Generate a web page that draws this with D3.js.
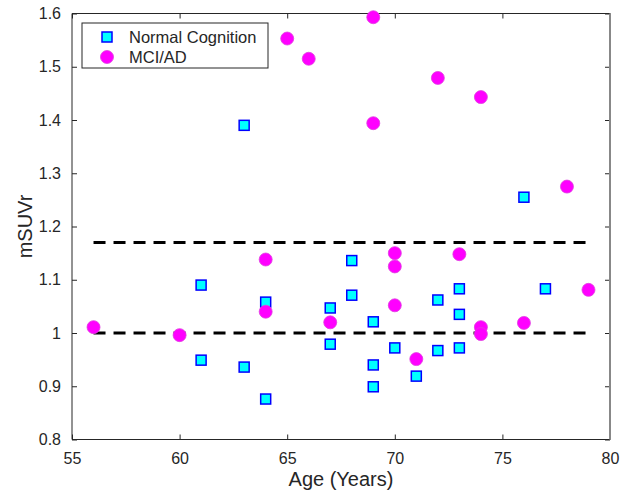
<!DOCTYPE html>
<html><head><meta charset="utf-8">
<script src="https://cdn.jsdelivr.net/npm/d3@7"></script>
<style>
body{margin:0;background:#fff;}
text{font-family:"Liberation Sans",Arial,Helvetica,sans-serif;fill:#262626;}
</style></head>
<body><svg id="c" width="633" height="493"></svg>
<script>
const ncAge = [63,76,61,64,61,63,64,67,67,68,68,69,69,69,70,71,72,72,73,73,73,77];
const ncVal = [1.39,1.255,1.09,1.058,0.949,0.936,0.876,1.047,0.979,1.136,1.071,1.021,0.940,0.899,0.972,0.919,1.062,0.967,1.083,1.035,0.972,1.083];
const mciAge = [65,66,69,69,72,74,78,56,60,64,64,67,70,70,70,71,73,74,74,76,79];
const mciVal = [1.553,1.515,1.593,1.394,1.479,1.443,1.275,1.011,0.996,1.138,1.040,1.020,1.150,1.125,1.052,0.951,1.148,1.011,0.998,1.019,1.081];
const xTicks = [55,60,65,70,75,80];
const yTicks = [0.8,0.9,1.0,1.1,1.2,1.3,1.4,1.5,1.6];
const yTickLabels = ["0.8","0.9","1","1.1","1.2","1.3","1.4","1.5","1.6"];
const thresholds = [1.0,1.17];
const thrRange = [56,79];
const seriesNames = ["Normal Cognition","MCI/AD"];

const svg = d3.select("#c");
const L=72,R=610,T=13.5,B=439.5;
const x = d3.scaleLinear().domain([55,80]).range([L,R]);
const y = d3.scaleLinear().domain([0.8,1.6]).range([B,T]);

const fmt = (d,i)=>yTickLabels[i];
const gx = svg.append("g").attr("transform",`translate(0,${B})`)
  .call(d3.axisBottom(x).tickValues(xTicks).tickSize(-5).tickPadding(13).tickFormat(d3.format("d")));
const gxt = svg.append("g").attr("transform",`translate(0,${T})`)
  .call(d3.axisTop(x).tickValues(xTicks).tickSize(-5).tickFormat(""));
const gy = svg.append("g").attr("transform",`translate(${L},0)`)
  .call(d3.axisLeft(y).tickValues(yTicks).tickSize(-5).tickPadding(11).tickFormat(fmt));
const gyr = svg.append("g").attr("transform",`translate(${R},0)`)
  .call(d3.axisRight(y).tickValues(yTicks).tickSize(-5).tickFormat(""));
[gx,gxt,gy,gyr].forEach(g=>{
  g.select(".domain").remove();
  g.selectAll(".tick line").attr("stroke","#262626");
  g.selectAll(".tick text").style("font-size","16px").attr("fill","#262626");
});
svg.append("line").attr("x1",L).attr("x2",R).attr("y1",B).attr("y2",B).attr("stroke","#262626");
svg.append("line").attr("x1",L).attr("x2",L).attr("y1",T).attr("y2",B).attr("stroke","#262626");
svg.append("line").attr("x1",L).attr("x2",R).attr("y1",T).attr("y2",T).attr("stroke","#262626");
svg.append("line").attr("x1",R).attr("x2",R).attr("y1",T).attr("y2",B).attr("stroke","#888").attr("stroke-width",2);

svg.append("text").attr("x",(L+R)/2).attr("y",486).attr("text-anchor","middle").style("font-size","20px").text("Age (Years)");
svg.append("text").attr("transform",`translate(32,${(T+B)/2}) rotate(-90)`).attr("text-anchor","middle").style("font-size","20px").text("mSUVr");

svg.selectAll(".thr").data(thresholds).enter().append("line")
  .attr("x1",x(thrRange[0])).attr("x2",x(thrRange[1]))
  .attr("y1",d=>y(d)).attr("y2",d=>y(d))
  .attr("stroke","#000").attr("stroke-width",2.8).attr("stroke-dasharray","12,8");

const nc = ncAge.map((a,i)=>({a,v:ncVal[i]}));
const mci = mciAge.map((a,i)=>({a,v:mciVal[i]}));
const sq=10;
svg.selectAll(".nc").data(nc).enter().append("rect")
  .attr("x",d=>x(d.a)-sq/2).attr("y",d=>y(d.v)-sq/2).attr("width",sq).attr("height",sq)
  .attr("fill","#00ffff").attr("stroke","#0000ff").attr("stroke-width",1.5);
svg.selectAll(".mci").data(mci).enter().append("circle")
  .attr("cx",d=>x(d.a)).attr("cy",d=>y(d.v)).attr("r",6.5)
  .attr("fill","#ff00ff").attr("stroke","#e040e0").attr("stroke-width",0.8);

const lg = svg.append("g");
lg.append("rect").attr("x",82).attr("y",23).attr("width",186).attr("height",45).attr("fill","#fff").attr("stroke","#262626").attr("stroke-width",1);
lg.append("rect").attr("x",107-sq/2).attr("y",37-sq/2).attr("width",sq).attr("height",sq).attr("fill","#00ffff").attr("stroke","#0000ff").attr("stroke-width",1.5);
lg.append("circle").attr("cx",107).attr("cy",57).attr("r",6.5).attr("fill","#ff00ff").attr("stroke","#e040e0").attr("stroke-width",0.8);
lg.append("text").attr("x",129).attr("y",42.5).style("font-size","16.5px").text(seriesNames[0]);
lg.append("text").attr("x",129).attr("y",62.5).style("font-size","16.5px").text(seriesNames[1]);
</script></body></html>
